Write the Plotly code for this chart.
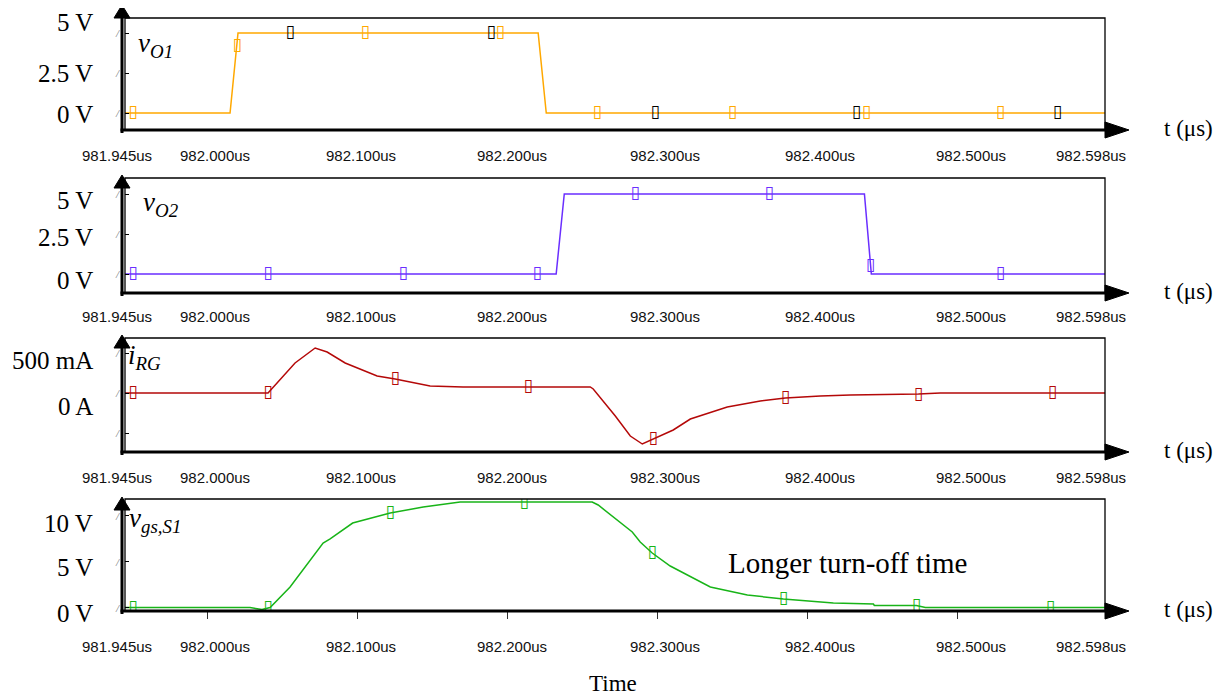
import plotly.graph_objects as go

# ---------------- data (time in microseconds) ----------------
t_o1 = [981.945, 982.015, 982.0203, 982.2203, 982.2257, 982.598]
v_o1 = [0, 0, 5, 5, 0, 0]
mk1_t = [981.9503, 982.0197, 982.105, 982.195, 982.2597, 982.3497, 982.439, 982.5283]
mk1_v = [0, 4.2, 5, 5, 0, 0, 0, 0]
mk1b_t = [982.055, 982.189, 982.2983, 982.4323, 982.5663]
mk1b_v = [5, 5, 0, 0, 0]

t_o2 = [981.945, 982.2323, 982.2377, 982.4377, 982.4423, 982.598]
v_o2 = [0, 0, 5, 5, 0, 0]
mk2_t = [981.9503, 982.0403, 982.1303, 982.2197, 982.285, 982.3743, 982.4417, 982.5283]
mk2_v = [0, 0, 0, 0, 5, 5, 0.5, 0]

t_rg = [981.945, 982.0403, 982.0583, 982.0717, 982.0797, 982.0917, 982.113, 982.125,
        982.1483, 982.1703, 982.255, 982.257, 982.2717, 982.2817, 982.2897, 982.297,
        982.3103, 982.3217, 982.3463, 982.3683, 982.385, 982.4083, 982.4283, 982.4737,
        982.4883, 982.598]
i_rg = [0, 0, 0.375, 0.5625, 0.5125, 0.375, 0.2125, 0.175,
        0.0875, 0.075, 0.075, 0.05, -0.2875, -0.5375, -0.6375, -0.575,
        -0.4625, -0.325, -0.175, -0.1, -0.0625, -0.0375, -0.025, -0.0125,
        0, 0]
mk3_t = [981.9503, 982.0403, 982.125, 982.2137, 982.297, 982.385, 982.4737, 982.563]
mk3_i = [0, 0, 0.175, 0.075, -0.575, -0.0625, -0.025, 0]

t_gs = [981.945, 982.0283, 982.0363, 982.0417, 982.055, 982.0663, 982.077, 982.0817,
        982.0967, 982.1217, 982.1437, 982.1683, 982.2563, 982.2603, 982.283, 982.2883,
        982.2963, 982.3083, 982.335, 982.3597, 982.3837, 982.417, 982.4437, 982.4443,
        982.4723, 982.4783, 982.598]
v_gs = [0, 0, -0.22, 0, 2.23, 4.62, 7.01, 7.45,
        9.18, 10.27, 10.92, 11.47, 11.47, 11.14, 8.21, 7.12,
        5.92, 4.51, 2.23, 1.36, 0.92, 0.49, 0.38, 0.22,
        0.22, 0, 0]
mk4_t = [981.9503, 982.0403, 982.1217, 982.211, 982.2963, 982.3837, 982.4723, 982.5617]
mk4_v = [0, 0, 10.27, 11.4, 5.92, 0.92, 0.22, 0]

x_tick_vals = [981.945, 982.000, 982.100, 982.200, 982.300, 982.400, 982.500, 982.598]
x_tick_text = ["981.945us", "982.000us", "982.100us", "982.200us",
               "982.300us", "982.400us", "982.500us", "982.598us"]
x_minor_ticks = [982.0, 982.1, 982.2, 982.3, 982.4, 982.5]

y1_ticks = [0, 2.5, 5]
y1_text = ["0 V", "2.5 V", "5 V"]
y2_ticks = [0, 2.5, 5]
y2_text = ["0 V", "2.5 V", "5 V"]
y3_ticks = [-0.5, 0, 0.5]
y3_lab_vals = [0, 0.5]
y3_text = ["0 A", "500 mA"]
y4_ticks = [0, 5, 10]
y4_text = ["0 V", "5 V", "10 V"]

# ---------------- layout helpers (page pixel geometry) ----------------
OFF = 8                      # page body margin
W, H = 1232 - OFF, 700 - OFF  # figure size
def px(x): return (x - OFF) / W
def py(y): return 1 - (y - OFF) / H

X0, X1 = 125, 1105
# (top, bottom, zero_px, px_per_unit)
panels = [(18, 130, 113, 16.0), (178, 293, 274, 16.0), (338, 452, 393, 80.0), (499, 611, 607.5, 9.2)]
arrow_tips = [5, 175, 335, 497]

C_OR = "#FFA800"
C_PU = "#6A2EFF"
C_RD = "#B40808"
C_GR = "#18B418"

SERIF = "Liberation Serif"
SANS = "Liberation Sans"
MARK = "\u25AF"

fig = go.Figure()

def add_marks(ax, mt, mv, color):
    fig.add_trace(go.Scatter(x=mt, y=mv, mode="text", text=[MARK] * len(mt),
                             textposition="middle center",
                             textfont=dict(family="DejaVu Sans", size=17, color=color, weight="bold"),
                             xaxis="x" + ax, yaxis="y" + ax, showlegend=False, hoverinfo="skip"))

def add_series(idx, t, v, color, mt, mv):
    ax = "" if idx == 1 else str(idx)
    fig.add_trace(go.Scatter(x=t, y=v, mode="lines", line=dict(color=color, width=1.5),
                             xaxis="x" + ax, yaxis="y" + ax, showlegend=False, hoverinfo="skip"))
    add_marks(ax, mt, mv, color)

add_series(1, t_o1, v_o1, C_OR, mk1_t, mk1_v)
add_marks("", mk1b_t, mk1b_v, "#000")
add_series(2, t_o2, v_o2, C_PU, mk2_t, mk2_v)
add_series(3, t_rg, i_rg, C_RD, mk3_t, mk3_i)
add_series(4, t_gs, v_gs, C_GR, mk4_t, mk4_v)

layout = dict(width=W, height=H, margin=dict(l=0, r=0, t=0, b=0),
              paper_bgcolor="white", plot_bgcolor="white", showlegend=False)

ytick_sets = [y1_ticks, y2_ticks, y3_ticks, y4_ticks]
for i, (top, bot, zero, sc) in enumerate(panels, start=1):
    ax = "" if i == 1 else str(i)
    lo = -(bot - zero) / sc
    hi = (zero - top) / sc
    xa = dict(domain=[px(X0), px(X1)], range=[981.945, 982.598], anchor="y" + ax,
              showgrid=False, zeroline=False, showline=False, showticklabels=False,
              ticks="")
    if i == 4:
        xa.update(ticks="outside", ticklen=7, tickwidth=1, tickcolor="#333",
                  tickvals=x_minor_ticks)
    ya = dict(domain=[py(bot), py(top)], range=[lo, hi], anchor="x" + ax,
              showgrid=False, zeroline=False, showline=False, showticklabels=False,
              ticks="inside", ticklen=4, tickwidth=1, tickcolor="#000",
              tickvals=ytick_sets[i - 1])
    layout["xaxis" + ax] = xa
    layout["yaxis" + ax] = ya

shapes = []
annotations = []
for i, (top, bot, zero, sc) in enumerate(panels):
    tip = arrow_tips[i]
    base = tip + 13
    shapes.append(dict(type="rect", xref="paper", yref="paper", x0=px(X0), x1=px(X1),
                       y0=py(bot), y1=py(top), line=dict(color="#000", width=1.3)))
    shapes.append(dict(type="line", xref="paper", yref="paper", x0=px(122), x1=px(122),
                       y0=py(bot + 3), y1=py(base), line=dict(color="#000", width=3)))
    shapes.append(dict(type="path", xref="paper", yref="paper",
                       path=f"M {px(114)} {py(base)} L {px(130)} {py(base)} L {px(122)} {py(tip)} Z",
                       fillcolor="#000", line=dict(color="#000", width=1)))
    shapes.append(dict(type="line", xref="paper", yref="paper", x0=px(120.5), x1=px(1107),
                       y0=py(bot), y1=py(bot), line=dict(color="#000", width=3)))
    shapes.append(dict(type="path", xref="paper", yref="paper",
                       path=f"M {px(1105)} {py(bot - 8)} L {px(1105)} {py(bot + 8)} L {px(1129)} {py(bot)} Z",
                       fillcolor="#000", line=dict(color="#000", width=1)))
    annotations.append(dict(x=px(1162), y=py(bot - 2), xref="paper", yref="paper",
                            text="t (μs)", showarrow=False, xanchor="left", yanchor="middle",
                            font=dict(family=SERIF, size=23, color="#000")))

label_rows = [155, 316, 477, 646]
label_shift = [-7.5, 7, 3, 4, 7, 12, 13, -14]
for i, yrow in enumerate(label_rows):
    ax = "x" if i == 0 else "x" + str(i + 1)
    for v, txt, sh in zip(x_tick_vals, x_tick_text, label_shift):
        annotations.append(dict(x=v, y=py(yrow), xref=ax, yref="paper", text=txt,
                                showarrow=False, xanchor="center", yanchor="middle", xshift=sh,
                                font=dict(family=SANS, size=15, color="#111")))

ylab_specs = [
    ("y", y1_ticks, y1_text, [-1, 0, 10.5]),
    ("y2", y2_ticks, y2_text, [-6, -3, -6]),
    ("y3", y3_lab_vals, y3_text, [-13, -7]),
    ("y4", y4_ticks, y4_text, [-5.5, -6, -8]),
]
for yref, vals, texts, shifts in ylab_specs:
    for v, txt, sh in zip(vals, texts, shifts):
        annotations.append(dict(x=px(95), y=v, xref="paper", yref=yref, text=txt,
                                showarrow=False, xanchor="right", yanchor="middle", yshift=sh,
                                font=dict(family=SERIF, size=25, color="#000")))

for yref, vals in zip(["y", "y2", "y3", "y4"], ytick_sets):
    for v in vals:
        annotations.append(dict(x=px(117), y=v, xref="paper", yref=yref, text="<i>/</i>",
                                showarrow=False, xanchor="center", yanchor="middle",
                                font=dict(family=SERIF, size=11, color="#777")))

panel_labels = [
    ("<i>v<sub>O1</sub></i>", 136, 45),
    ("<i>v<sub>O2</sub></i>", 141, 204),
    ("<i>i<sub>RG</sub></i>", 126, 357),
    ("<i>v<sub>gs,S1</sub></i>", 127, 520),
]
for txt, lx, ly in panel_labels:
    annotations.append(dict(x=px(lx), y=py(ly), xref="paper", yref="paper", text=txt,
                            showarrow=False, xanchor="left", yanchor="middle",
                            font=dict(family=SERIF, size=27, color="#000")))

annotations.append(dict(x=px(726), y=py(563), xref="paper", yref="paper",
                        text="Longer turn-off time", showarrow=False, xanchor="left",
                        yanchor="middle", font=dict(family=SERIF, size=29, color="#000")))
annotations.append(dict(x=px(613), y=py(683), xref="paper", yref="paper",
                        text="Time", showarrow=False, xanchor="center",
                        yanchor="middle", font=dict(family=SERIF, size=23, color="#000")))

layout["shapes"] = shapes
layout["annotations"] = annotations
fig.update_layout(**layout)
fig.write_html("out.html")
